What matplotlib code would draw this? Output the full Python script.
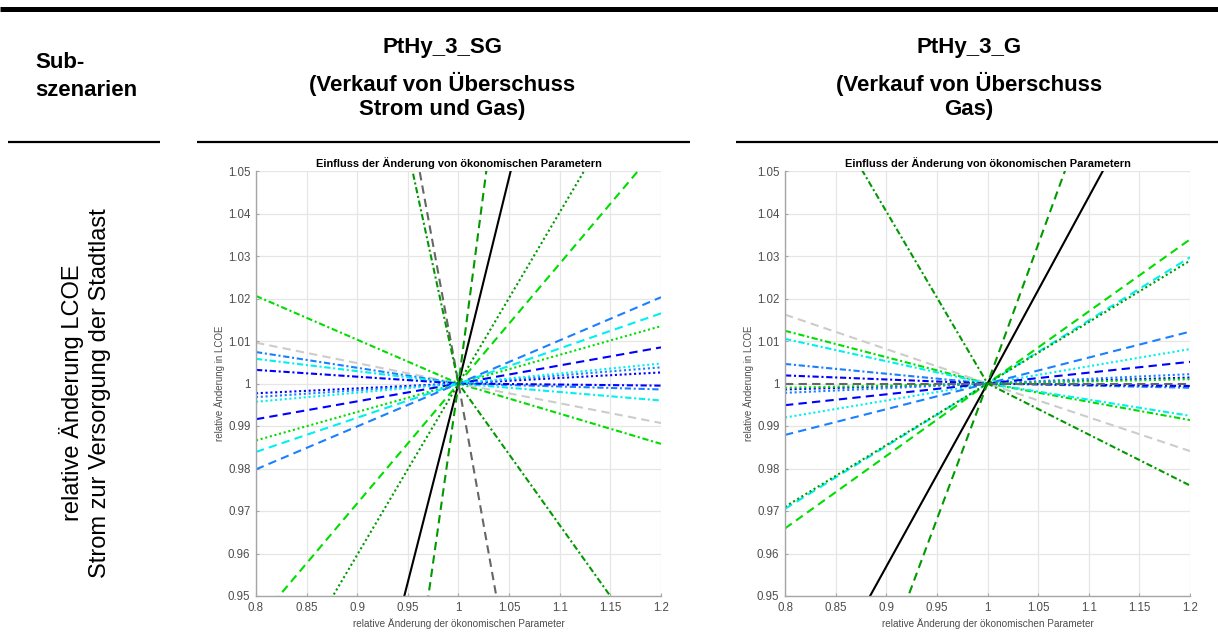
import matplotlib.pyplot as plt
from matplotlib.lines import Line2D
from matplotlib.ticker import FuncFormatter, MultipleLocator

plt.rcParams['font.family'] = ['Liberation Sans', 'DejaVu Sans']

# relative change of the economic parameters (points of each curve)
x_rel = [0.8, 1.0, 1.2]

# PtHy_3_SG: relative LCOE at 0.8 and at 1.2 (value at 1.0 is always 1)
sg_low = [1.0206, 1.0096, 1.0074, 1.0058, 1.0032,
          0.9977, 0.9968, 0.9957, 0.9916, 0.9866, 0.9839, 0.9798,
          0.9436, 0.9194, 0.8132, 0.664, 1.26, 1.22]
sg_high = [0.9858, 0.9907, 0.9986, 0.9960, 0.9995,
           1.0026, 1.0038, 1.0047, 1.0085, 1.0135, 1.0165, 1.0203,
           1.0564, 1.0806, 1.194, 1.364, 0.732, 0.9333]

# PtHy_3_G
g_low = [1.0124, 1.0162, 1.0046, 1.0105, 1.0019,
         0.9986, 0.9978, 0.9920, 0.9949, 0.9990, 0.9705, 0.9879,
         0.9659, 0.9710, 0.9138, 0.8722, 1.0, 1.081]
g_high = [0.9914, 0.9841, 0.9990, 0.9924, 0.9994,
          1.0014, 1.0022, 1.0081, 1.0051, 1.0010, 1.0297, 1.0122,
          1.0339, 1.0289, 1.0878, 1.1308, 1.0, 0.9760]

x_ticks = [0.8, 0.85, 0.9, 0.95, 1.0, 1.05, 1.1, 1.15, 1.2]

# colours / line styles (matlab-ish)
blue = '#0000FF'
dodger = '#1A80FF'
cyan = '#00F0F0'
lime = '#00DD00'
dgreen = '#009A00'
dgray = '#666666'
lgray = '#CCCCCC'
dash = (0, (4, 2.5))
dot = (0, (1, 1.3))
dashdot = (0, (3, 1.3, 1, 1.3))
styles = [(lime, dashdot), (lgray, dash), (dodger, dashdot), (cyan, dashdot), (blue, dashdot),
          (blue, dot), (dodger, dot), (cyan, dot), (blue, dash), (lime, dot), (cyan, dash), (dodger, dash),
          (lime, dash), (dgreen, dot), ('black', '-'), (dgreen, dash), (dgray, dash), (dgreen, dashdot)]

W, H = 1218, 643
fig = plt.figure(figsize=(W / 100, H / 100), dpi=100)


def fx(px):
  return px / W


def fy(py):
  return 1 - py / H


def hline(x0, x1, y, lw):
  fig.add_artist(Line2D([fx(x0), fx(x1)], [fy(y), fy(y)], color='black', lw=lw,
                        transform=fig.transFigure, solid_capstyle='butt'))


# table rules
hline(0, W, 9, 3.6)
hline(8, 160, 142, 1.6)
hline(197, 690, 142, 1.6)
hline(736, W, 142, 1.6)

# table header
hdr = dict(fontsize=16, fontweight='bold', va='center')
fig.text(fx(35), fy(62), 'Sub-', ha='left', **hdr)
fig.text(fx(35), fy(90), 'szenarien', ha='left', **hdr)
fig.text(fx(442), fy(47), 'PtHy_3_SG', ha='center', **hdr)
fig.text(fx(442), fy(84), '(Verkauf von Überschuss', ha='center', **hdr)
fig.text(fx(442), fy(110), 'Strom und Gas)', ha='center', **hdr)
fig.text(fx(969), fy(47), 'PtHy_3_G', ha='center', **hdr)
fig.text(fx(969), fy(84), '(Verkauf von Überschuss', ha='center', **hdr)
fig.text(fx(969), fy(110), 'Gas)', ha='center', **hdr)

fig.text(fx(71), fy(393), 'relative Änderung LCOE', rotation=90, fontsize=17,
         ha='center', va='center')
fig.text(fx(100), fy(393), 'Strom zur Versorgung der Stadtlast', rotation=90, fontsize=17,
         ha='center', va='center')


def panel(ax, low, high):
  for lo, hi, (c, ls) in zip(low, high, styles):
    ax.plot(x_rel, [lo, 1.0, hi], color=c, linestyle=ls, lw=1.5)
  ax.set_xlim(0.8, 1.2)
  ax.set_ylim(0.95, 1.05)
  ax.set_xticks(x_ticks)
  ax.yaxis.set_major_locator(MultipleLocator(0.01))
  fmt = FuncFormatter(lambda v, p: '{:g}'.format(round(v, 3)))
  ax.xaxis.set_major_formatter(fmt)
  ax.yaxis.set_major_formatter(fmt)
  ax.grid(True, color='#E6E6E6', lw=0.9)
  ax.set_axisbelow(True)
  for s in ['top', 'right']:
    ax.spines[s].set_visible(False)
  for s in ['left', 'bottom']:
    ax.spines[s].set_color('#A6A6A6')
    ax.spines[s].set_linewidth(1.0)
  ax.tick_params(direction='in', length=2, color='#A6A6A6', labelsize=8.3,
                 labelcolor='#4D4D4D', pad=4)
  ax.set_title('Einfluss der Änderung von ökonomischen Parametern', fontsize=7.9,
               fontweight='bold', pad=3)
  ax.set_xlabel('relative Änderung der ökonomischen Parameter', fontsize=7.2,
                color='#4D4D4D', labelpad=3)
  ax.set_ylabel('relative Änderung in LCOE', fontsize=7, color='#4D4D4D', labelpad=2)


ax1 = fig.add_axes([fx(256), fy(596), fx(661) - fx(256), fy(171) - fy(596)])
panel(ax1, sg_low, sg_high)
ax2 = fig.add_axes([fx(785), fy(596), fx(1190) - fx(785), fy(171) - fy(596)])
panel(ax2, g_low, g_high)

fig.savefig('out.png', dpi=100)
